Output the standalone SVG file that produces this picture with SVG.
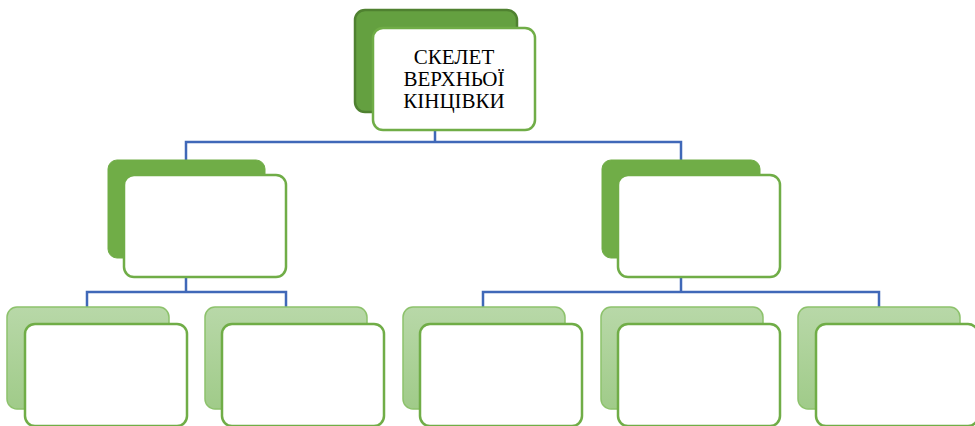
<svg xmlns="http://www.w3.org/2000/svg" width="975" height="426" viewBox="0 0 975 426">
<defs>
<linearGradient id="lg" x1="0" y1="0" x2="0" y2="1">
<stop offset="0" stop-color="#b8d8a8"/>
<stop offset="1" stop-color="#a0cb89"/>
</linearGradient>
<style>
.b1{fill:#64a040;stroke:#4f8130;stroke-width:2.5}
.b2{fill:#70ad47;stroke:#70ad47;stroke-width:1}
.b3{fill:url(#lg);stroke:#8dc26c;stroke-width:1.5}
.f{fill:#ffffff;stroke:#70ad47;stroke-width:2.5}
.c{fill:none;stroke:#4068b8;stroke-width:2.5}
.t{font-family:"Liberation Serif","Times New Roman",serif;font-size:21px;fill:#000;text-anchor:middle}
</style>
</defs>
<g id="connectors">
<path class="c" d="M435,130 V142 M186,160 V142 H681 V160"/>
<path class="c" d="M186,277 V292 M87,307 V292 H286 V307"/>
<path class="c" d="M681,277 V292 M483,307 V292 H879 V307"/>
</g>
<g id="root">
<rect class="b1" x="355" y="10" width="162" height="102" rx="10"/>
<rect class="f" x="373" y="28" width="162" height="102" rx="10"/>
<text class="t" x="454" y="64">СКЕЛЕТ</text>
<text class="t" x="454" y="86">ВЕРХНЬОЇ</text>
<text class="t" x="454" y="108">КІНЦІВКИ</text>
</g>
<g id="l2a">
<rect class="b2" x="108" y="160" width="157" height="98" rx="9"/>
<rect class="f" x="124" y="175" width="162" height="102" rx="10"/>
</g>
<g id="l2b">
<rect class="b2" x="602" y="160" width="158" height="98" rx="9"/>
<rect class="f" x="618" y="175" width="162" height="102" rx="10"/>
</g>
<g id="l3a">
<rect class="b3" x="7" y="307" width="162" height="102" rx="10"/>
<rect class="f" x="25" y="324" width="162" height="102" rx="10"/>
</g>
<g id="l3b">
<rect class="b3" x="205" y="307" width="162" height="102" rx="10"/>
<rect class="f" x="222" y="324" width="162" height="102" rx="10"/>
</g>
<g id="l3c">
<rect class="b3" x="403" y="307" width="162" height="102" rx="10"/>
<rect class="f" x="420" y="324" width="162" height="102" rx="10"/>
</g>
<g id="l3d">
<rect class="b3" x="601" y="307" width="162" height="102" rx="10"/>
<rect class="f" x="618" y="324" width="162" height="102" rx="10"/>
</g>
<g id="l3e">
<rect class="b3" x="798" y="307" width="162" height="102" rx="10"/>
<rect class="f" x="816" y="324" width="162" height="102" rx="10"/>
</g>
</svg>
